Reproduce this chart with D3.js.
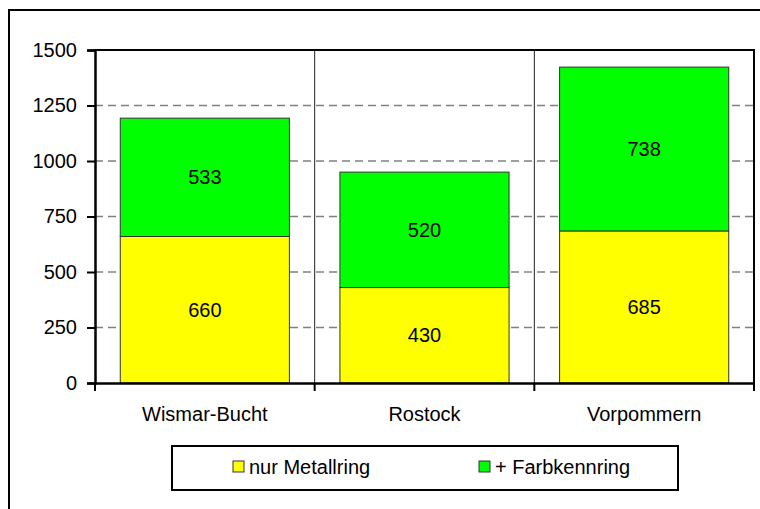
<!DOCTYPE html>
<html><head><meta charset="utf-8">
<script src="https://cdn.jsdelivr.net/npm/d3@7"></script>
<style>body{margin:0;background:#fff}svg{display:block;font-family:"Liberation Sans",Arial,sans-serif}</style>
</head><body><svg id="c" width="760" height="509"></svg>
<script>
const categories = ["Wismar-Bucht", "Rostock", "Vorpommern"];
const metallring = [660, 430, 685];
const farbkennring = [533, 520, 738];
const seriesNames = ["nur Metallring", "+ Farbkennring"];
const yTicks = [0, 250, 500, 750, 1000, 1250, 1500];

const FS = 20;
const svg = d3.select("#c");
const L = 95, R = 754, T = 50, B = 383;
const x = d3.scaleBand().domain(categories).range([L, R]).paddingInner(0).paddingOuter(0);
const y = d3.scaleLinear().domain([0, 1500]).range([B, T]);
const bw = x.bandwidth() * 0.77;

// outer frame
svg.append("rect").attr("x", 9).attr("y", 10).attr("width", 760).attr("height", 520)
  .attr("fill", "none").attr("stroke", "#000").attr("stroke-width", 2);

// gridlines
svg.append("g").selectAll("line").data(yTicks.filter(d => d > 0 && d < 1500)).join("line")
  .attr("x1", L).attr("x2", R).attr("y1", d => y(d)).attr("y2", d => y(d))
  .attr("stroke", "#808080").attr("stroke-width", 1.5).attr("stroke-dasharray", "8,5");

// category separators
svg.append("g").selectAll("line").data(categories.slice(1)).join("line")
  .attr("x1", d => x(d)).attr("x2", d => x(d)).attr("y1", T).attr("y2", B)
  .attr("stroke", "#222").attr("stroke-width", 1);

const stack = categories.map((c, i) => ({c, m: metallring[i], f: farbkennring[i]}));
const colors = ["#FFFF00", "#00FF00"];

const g = svg.append("g");
stack.forEach(d => {
  const x0 = x(d.c) + (x.bandwidth() - bw) / 2;
  g.append("rect").attr("x", x0).attr("y", y(d.m)).attr("width", bw).attr("height", y(0) - y(d.m))
    .attr("fill", colors[0]).attr("stroke", "#333").attr("stroke-width", 1);
  g.append("rect").attr("x", x0).attr("y", y(d.m + d.f)).attr("width", bw).attr("height", y(d.m) - y(d.m + d.f))
    .attr("fill", colors[1]).attr("stroke", "#333").attr("stroke-width", 1);
  g.append("text").attr("x", x(d.c) + x.bandwidth() / 2).attr("y", (y(0) + y(d.m)) / 2)
    .attr("text-anchor", "middle").attr("dominant-baseline", "central").attr("font-size", FS).text(d.m);
  g.append("text").attr("x", x(d.c) + x.bandwidth() / 2).attr("y", (y(d.m) + y(d.m + d.f)) / 2)
    .attr("text-anchor", "middle").attr("dominant-baseline", "central").attr("font-size", FS).text(d.f);
});

// plot frame top/right
svg.append("path").attr("d", `M${L},${T}H${R}V${B}`).attr("fill", "none").attr("stroke", "#000").attr("stroke-width", 2);

// y axis
const ya = svg.append("g").attr("transform", `translate(${L},0)`)
  .call(d3.axisLeft(y).tickValues(yTicks).tickFormat(d3.format("d")).tickSize(8).tickPadding(10));
ya.select(".domain").attr("stroke-width", 2.5);
ya.selectAll(".tick line").attr("stroke-width", 2);
ya.selectAll("text").attr("font-size", FS).attr("fill", "#000").attr("font-family", "Liberation Sans, Arial, sans-serif");

// x axis
const xa = svg.append("g").attr("transform", `translate(0,${B})`)
  .call(d3.axisBottom(x).tickSize(0).tickPadding(24));
xa.select(".domain").attr("stroke-width", 2.5);
xa.selectAll("text").attr("font-size", FS).attr("fill", "#000").attr("font-family", "Liberation Sans, Arial, sans-serif");
svg.append("g").selectAll("line").data([L, ...categories.map(c => x(c) + x.bandwidth())]).join("line")
  .attr("x1", d => d).attr("x2", d => d).attr("y1", B).attr("y2", B + 8)
  .attr("stroke", "#000").attr("stroke-width", 2);

// legend
const lg = svg.append("g");
lg.append("rect").attr("x", 172).attr("y", 446).attr("width", 506).attr("height", 44)
  .attr("fill", "#fff").attr("stroke", "#000").attr("stroke-width", 2);
const lx = [233, 479];
seriesNames.forEach((n, i) => {
  lg.append("rect").attr("x", lx[i]).attr("y", 461).attr("width", 11).attr("height", 11)
    .attr("fill", colors[i]).attr("stroke", "#333").attr("stroke-width", 1);
  lg.append("text").attr("x", lx[i] + 16).attr("y", 467).attr("dominant-baseline", "central")
    .attr("font-size", FS).text(n);
});
</script></body></html>
